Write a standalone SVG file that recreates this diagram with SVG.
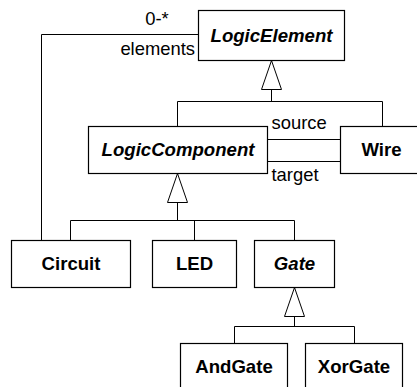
<svg xmlns="http://www.w3.org/2000/svg" width="417" height="387" viewBox="0 0 417 387">
<style>
.box{fill:#fff;stroke:#000;stroke-width:1.2}
.name{font-family:"Liberation Sans",Arial,sans-serif;font-size:18.6px;font-weight:bold;text-anchor:middle;fill:#000}
.abs{font-style:italic}
.lbl{font-family:"Liberation Sans",Arial,sans-serif;font-size:18.4px;fill:#000}
.ln{fill:none;stroke:#000;stroke-width:1}
</style>
<defs>
<marker id="gen" viewBox="0 0 29 20" refX="29" refY="10" markerWidth="29" markerHeight="20" markerUnits="userSpaceOnUse" orient="auto" overflow="visible">
<path d="M0,0 L29,10 L0,20 Z" fill="#fff" stroke="#000" stroke-width="1"/>
</marker>
</defs>
<g id="connectors">
<path class="ln" d="M198.5,34.5 H41.5 V240.5"/>
<path class="ln" d="M177.5,126.5 V101.5 H382.5 V126.5"/>
<path class="ln" d="M271.5,101.5 V60.5" marker-end="url(#gen)"/>
<path class="ln" d="M267.5,139.5 H340.5"/>
<path class="ln" d="M267.5,161.5 H340.5"/>
<path class="ln" d="M70.5,240.5 V220.5 H294.5 V240.5 M194.5,220.5 V240.5"/>
<path class="ln" d="M177.5,220.5 V173.5" marker-end="url(#gen)"/>
<path class="ln" d="M234.5,343.5 V326.5 H354.5 V343.5"/>
<path class="ln" d="M294.5,326.5 V287.5" marker-end="url(#gen)"/>
<text class="lbl" x="157" y="25" text-anchor="middle">0-*</text>
<text class="lbl" x="195" y="55" text-anchor="end">elements</text>
<text class="lbl" x="271.5" y="129">source</text>
<text class="lbl" x="271.5" y="181">target</text>
</g>
<g id="LogicElement"><rect class="box" x="198.5" y="10.5" width="146" height="50"/><text class="name abs" x="271.5" y="41.5">LogicElement</text></g>
<g id="LogicComponent"><rect class="box" x="88.5" y="126.5" width="179" height="47"/><text class="name abs" x="178" y="156">LogicComponent</text></g>
<g id="Wire"><rect class="box" x="340.5" y="126.5" width="82" height="47"/><text class="name" x="381.5" y="156">Wire</text></g>
<g id="Circuit"><rect class="box" x="11.5" y="240.5" width="119" height="47"/><text class="name" x="71" y="270">Circuit</text></g>
<g id="LED"><rect class="box" x="152.5" y="240.5" width="84" height="47"/><text class="name" x="194.5" y="270">LED</text></g>
<g id="Gate"><rect class="box" x="254.5" y="240.5" width="80" height="47"/><text class="name abs" x="294.5" y="270">Gate</text></g>
<g id="AndGate"><rect class="box" x="180.5" y="343.5" width="107" height="50"/><text class="name" x="234" y="372.5">AndGate</text></g>
<g id="XorGate"><rect class="box" x="305.5" y="343.5" width="97" height="50"/><text class="name" x="354" y="372.5">XorGate</text></g>
</svg>
